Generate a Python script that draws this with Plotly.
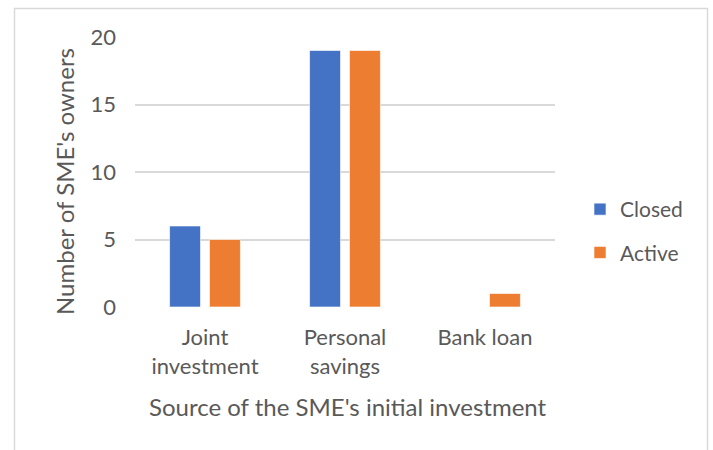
import plotly.graph_objects as go

categories = ["Joint<br>investment", "Personal<br>savings", "Bank loan"]
closed_vals = [6, 19, 0]
active_vals = [5, 19, 1]
series_names = ["Closed", "Active"]
colors = ["#4472C4", "#ED7D31"]
y_tick_vals = [0, 5, 10, 15, 20]

FONT = "Lato, Calibri, sans-serif"
TXT = "#595959"
W, H = 713, 450
L, R, T, B = 135, 158, 37, 143
pw, ph = W - L - R, H - T - B

def px_x(x):
    return (x - L) / pw

def px_y(y):
    return (H - B - y) / ph

fig = go.Figure()
for name, vals, col in zip(series_names, [closed_vals, active_vals], colors):
    fig.add_trace(go.Bar(
        x=categories, y=vals, name=name, legendgroup=name,
        marker=dict(color=col, line=dict(color="white", width=0.6)),
    ))

fig.update_layout(
    width=W, height=H, autosize=False,
    margin=dict(l=L, r=R, t=T, b=B, pad=0),
    paper_bgcolor="white", plot_bgcolor="white",
    font=dict(family=FONT, size=22, color=TXT),
    barmode="group", bargap=0.43, bargroupgap=0.225,
    showlegend=True,
    legend=dict(x=px_x(580), y=px_y(231), xanchor="left", yanchor="middle",
                font=dict(size=21, color=TXT), tracegroupgap=13,
                itemwidth=30, bgcolor="rgba(0,0,0,0)"),
    xaxis=dict(showline=False, showgrid=False, zeroline=False, ticks="",
               tickfont=dict(size=22, color=TXT), ticklabelstandoff=15),
    yaxis=dict(range=[0, 20], tickvals=y_tick_vals, showgrid=True,
               gridcolor="#D9D9D9", gridwidth=1.5, zeroline=False,
               showline=False, ticks="", ticklabelstandoff=18,
               tickfont=dict(size=22, color=TXT)),
    annotations=[
        dict(text="Number of SME's owners", textangle=-90, xref="paper", yref="paper",
             x=px_x(65), y=px_y(182), xanchor="center", yanchor="middle",
             showarrow=False, font=dict(size=24, color=TXT)),
        dict(text="Source of the SME's initial investment", xref="paper", yref="paper",
             x=px_x(348), y=px_y(407), xanchor="center", yanchor="middle",
             showarrow=False, font=dict(size=24, color=TXT)),
    ],
    shapes=[
        dict(type="rect", xref="paper", yref="paper",
             x0=px_x(14.5), x1=px_x(707.5), y0=px_y(470), y1=px_y(8.5),
             line=dict(color="#D9D9D9", width=1.5), fillcolor="rgba(0,0,0,0)",
             layer="below"),
    ],
)

fig.write_html("out.html")
